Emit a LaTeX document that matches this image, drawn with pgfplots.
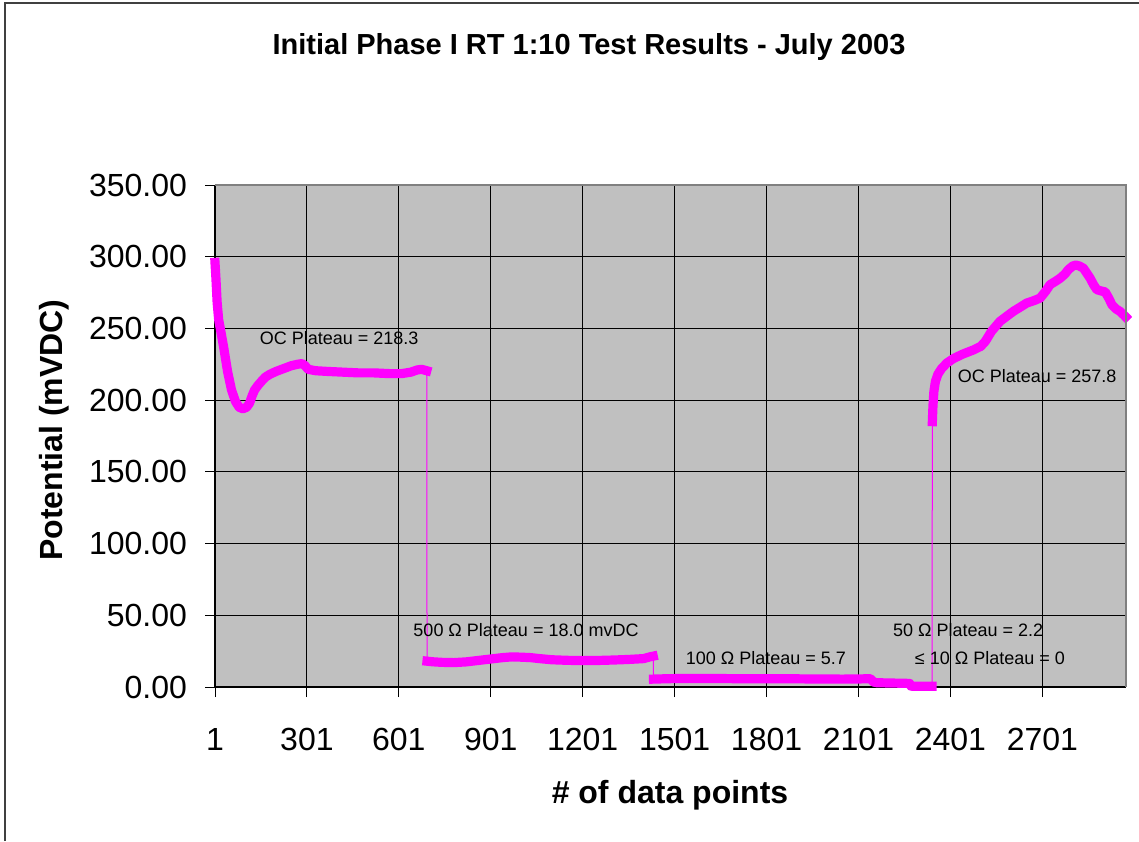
\documentclass[border=0pt]{standalone}
\usepackage{fontspec}
\setmainfont{Liberation Sans}
\usepackage{pgfplots}
\usepackage{pgfplotstable}
\pgfplotsset{compat=1.18}
\definecolor{mag}{HTML}{FF00FF}
\definecolor{plotgray}{HTML}{C0C0C0}
\definecolor{bordergray}{HTML}{808080}

\pgfplotstableread{
x y
1 296
4 285
8 268
13 256
20 248
30 236
42 220
55 207
68 199
80 195
92 194
104 195
114 198
122 203
130 207
140 210
152 213
165 216
180 218
200 220
225 222
250 224
270 225
285 225.5
295 224
305 221.5
330 220.5
370 220
420 219.5
470 219
520 219
570 218.5
610 218.5
640 219.5
660 221
675 221.5
692 220.5
693 18
710 17.6
740 17.2
780 17.0
820 17.5
860 18.5
900 19.5
940 20.5
970 21
1000 20.8
1030 20.5
1060 19.8
1100 19
1150 18.6
1200 18.4
1250 18.5
1300 18.8
1350 19.2
1400 19.8
1420 21
1431 21.5
1432 5.5
1480 5.8
1550 6
1650 5.9
1750 5.7
1850 5.8
1950 5.6
2050 5.5
2100 5.6
2140 5.8
2150 3.5
2160 3.0
2200 2.8
2250 2.6
2268 2.5
2272 0.6
2300 0.5
2341 0.5
2342 185
2344 196
2347 206
2352 213
2360 218
2372 222
2390 226
2411 229
2440 232
2476 235
2500 237.5
2515 241
2535 248
2563 255
2585 258.5
2607 262
2630 265
2650 267.7
2675 269.5
2694 271.2
2712 276
2726 280.5
2745 283
2759 285
2775 288
2786 291
2800 293.5
2810 294.2
2822 293.5
2835 292
2846 288.5
2857 285
2868 280.5
2879 277
2895 276
2906 275.5
2918 271
2928 266.5
2942 263.5
2955 261.8
2966 259.5
2973 258
}\datatable

\begin{document}
\begin{tikzpicture}[x=1pt,y=1pt]
\path[use as bounding box] (0,0) rectangle (569.5,420.5);
\draw[line width=1pt, black!75] (2.5,0) -- (2.5,419) -- (569.5,419);
\node[font=\bfseries\fontsize{14.5}{17}\selectfont] at (294.5,397) {Initial Phase I RT 1:10 Test Results - July 2003};
\node[font=\bfseries\fontsize{16}{19}\selectfont] at (335,23) {\# of data points};
\node[font=\bfseries\fontsize{16}{19}\selectfont, rotate=90] at (27,205.5) {Potential (mVDC)};
\begin{axis}[
  at={(107.5pt,77pt)}, anchor=south west,
  scale only axis, width=455.5pt, height=251pt,
  xmin=1, xmax=2974, ymin=0, ymax=350,
  axis lines=left,
  axis line style={-, black, line width=0.6pt},
  x axis line style={-}, y axis line style={-},
  axis background/.style={fill=plotgray},
  grid=major,
  major grid style={black, line width=0.5pt},
  tick align=outside,
  major tick length=5pt,
  tick style={black, line width=0.5pt},
  xtick={1,301,601,901,1201,1501,1801,2101,2401,2701},
  xticklabels={1,301,601,901,1201,1501,1801,2101,2401,2701},
  ytick={0,50,100,150,200,250,300,350},
  scaled y ticks=false,
  tick label style={font=\fontsize{16}{19}\selectfont},
  xticklabel style={yshift=-12pt},
  yticklabel style={xshift=-5.5pt, /pgf/number format/.cd, fixed, fixed zerofill, precision=2, assume math mode=true},
  clip=false,
]
\addplot[mag, line width=0.5pt] table {\datatable};
\addplot[mag, line width=4.6pt, line cap=rect, line join=round, restrict x to domain=1:692] table {\datatable};
\addplot[mag, line width=4.6pt, line cap=rect, line join=round, restrict x to domain=693:1431] table {\datatable};
\addplot[mag, line width=4.6pt, line cap=rect, line join=round, restrict x to domain=1432:2341] table {\datatable};
\addplot[mag, line width=4.6pt, line cap=rect, line join=round, restrict x to domain=2342:2973] table {\datatable};
\draw[bordergray, line width=1pt] (rel axis cs:0,1) -- (rel axis cs:1,1) -- (rel axis cs:1,0);
\begin{scope}[every node/.style={font=\fontsize{9}{11}\selectfont, inner sep=0pt}]
\node at (axis cs:406,243) {OC Plateau = 218.3};
\node at (axis cs:2684,217) {OC Plateau = 257.8};
\node at (axis cs:1016,39.5) {500 Ω Plateau = 18.0 mvDC};
\node at (axis cs:1799,20.2) {100 Ω Plateau = 5.7};
\node at (axis cs:2459,39.5) {50 Ω Plateau = 2.2};
\node at (axis cs:2530,20.2) {≤ 10 Ω Plateau = 0};
\end{scope}
\end{axis}
\end{tikzpicture}
\end{document}
